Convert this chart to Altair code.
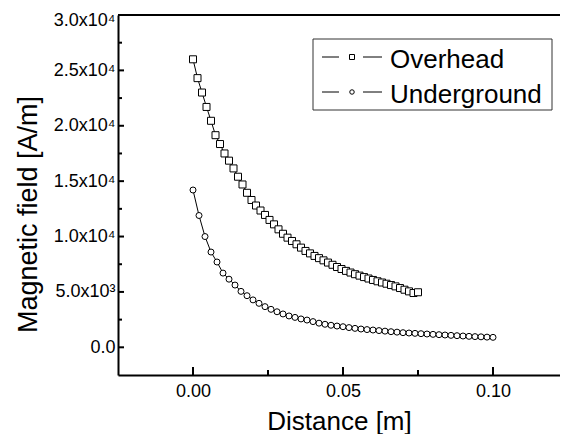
import altair as alt
import pandas as pd

# ---- data ----
series_names = ["Overhead", "Underground"]

overhead_x = [0.0, 0.0015, 0.003, 0.0045, 0.006, 0.0075, 0.009, 0.0105, 0.012, 0.0135,
              0.015, 0.0165, 0.018, 0.0195, 0.021, 0.0225, 0.024, 0.0255, 0.027, 0.0285,
              0.03, 0.0315, 0.033, 0.0345, 0.036, 0.0375, 0.039, 0.0405, 0.042, 0.0435,
              0.045, 0.0465, 0.048, 0.0495, 0.051, 0.0525, 0.054, 0.0555, 0.057, 0.0585,
              0.06, 0.0615, 0.063, 0.0645, 0.066, 0.0675, 0.069, 0.0705, 0.072, 0.0735,
              0.075]
overhead_y = [26000, 24300, 23000, 21700, 20450, 19150, 18350, 17500, 16850, 16150,
              15400, 14700, 13950, 13300, 12800, 12350, 11950, 11500, 11100, 10650,
              10250, 9900, 9600, 9300, 9000, 8700, 8480, 8250, 8050, 7850,
              7650, 7450, 7250, 7070, 6900, 6750, 6600, 6470, 6340, 6210,
              6080, 5960, 5850, 5740, 5620, 5500, 5350, 5200, 5050, 4900,
              4970]

underground_x = [0.0, 0.002, 0.004, 0.006, 0.008, 0.01, 0.012, 0.014, 0.016, 0.018,
                 0.02, 0.022, 0.024, 0.026, 0.028, 0.03, 0.032, 0.034, 0.036, 0.038,
                 0.04, 0.042, 0.044, 0.046, 0.048, 0.05, 0.052, 0.054, 0.056, 0.058,
                 0.06, 0.062, 0.064, 0.066, 0.068, 0.07, 0.072, 0.074, 0.076, 0.078,
                 0.08, 0.082, 0.084, 0.086, 0.088, 0.09, 0.092, 0.094, 0.096, 0.098,
                 0.1]
underground_y = [14200, 11900, 10000, 8600, 7700, 6700, 6150, 5620, 5050, 4660,
                 4280, 3970, 3670, 3430, 3210, 3010, 2830, 2700, 2560, 2460,
                 2320, 2180, 2080, 1990, 1920, 1860, 1780, 1710, 1650, 1600,
                 1560, 1510, 1460, 1410, 1370, 1320, 1290, 1260, 1230, 1200,
                 1170, 1140, 1110, 1080, 1050, 1020, 990, 965, 945, 920,
                 900]

x_major = [0.0, 0.05, 0.10]
x_minor = [0.025, 0.075]
y_major = [0, 5000, 10000, 15000, 20000, 25000, 30000]
y_minor = [2500, 7500, 12500, 17500, 22500, 27500]

# ---- layout / style ----
W, H = 442, 360
FONT = "Liberation Sans"

df_o = pd.DataFrame({"d": overhead_x, "h": overhead_y, "s": series_names[0]})
df_u = pd.DataFrame({"d": underground_x, "h": underground_y, "s": series_names[1]})

xs = alt.Scale(domain=[-0.025, -0.025 + W / 3000.0], nice=False, zero=False)
ys = alt.Scale(domain=[-2500, 30000], nice=False, zero=False)

xaxis = alt.Axis(values=x_major, format=".2f", title="Distance [m]", ticks=False, tickSize=0,
                 grid=False, domainColor="black", domainWidth=2,
                 labelFont=FONT, labelFontSize=18, labelColor="black", labelPadding=7,
                 titleFont=FONT, titleFontSize=26, titleFontWeight="normal", titleColor="black",
                 titleBaseline="alphabetic", titleY=54)

label_expr = ("datum.value == 0 ? '0.0' : (datum.value < 10000 ? "
              "format(datum.value / 1000, '.1f') + 'x10\u00b3' : "
              "format(datum.value / 10000, '.1f') + 'x10\u2074')")

yaxis = alt.Axis(values=y_major, labelExpr=label_expr, title="Magnetic field [A/m]",
                 ticks=False, tickSize=0, grid=False, domainColor="black", domainWidth=2,
                 labelFont=FONT, labelFontSize=18, labelColor="black", labelPadding=3,
                 labelFlush=True, labelFlushOffset=4,
                 titleFont=FONT, titleFontSize=27, titleFontWeight="normal", titleColor="black",
                 titleBaseline="alphabetic", titleAlign="center", titleAngle=270,
                 titleX=-82, titleY=199)


def X(field):
    return alt.X(field, scale=xs, axis=xaxis)


def Y(field):
    return alt.Y(field, scale=ys, axis=yaxis)


def series_layers(df, shape, size):
    line = alt.Chart(df).mark_line(color="black", strokeWidth=1).encode(x=X("d:Q"), y=Y("h:Q"))
    pts = alt.Chart(df).mark_point(shape=shape, size=size, filled=True, fill="white",
                                   stroke="black", strokeWidth=1, opacity=1).encode(
        x=X("d:Q"), y=Y("h:Q"))
    return [line, pts]


def xticks(vals, length):
    return alt.Chart(pd.DataFrame({"d": vals})).mark_rule(color="black", strokeWidth=2).encode(
        x=X("d:Q"), y=alt.value(H), y2=alt.value(H - length))


def yticks(vals, length):
    return alt.Chart(pd.DataFrame({"h": vals})).mark_rule(color="black", strokeWidth=2).encode(
        y=Y("h:Q"), x=alt.value(0), x2=alt.value(length))


top_line = alt.Chart(pd.DataFrame({"a": [0]})).mark_rule(color="black", strokeWidth=2).encode(
    x=alt.value(0), x2=alt.value(W), y=alt.value(0))

# legend (drawn by hand to get the "— marker —" look)
legend_box = alt.Chart(pd.DataFrame({"a": [0]})).mark_rect(
    fill="white", stroke="#333333", strokeWidth=1).encode(
    x=alt.value(195), x2=alt.value(434), y=alt.value(24), y2=alt.value(95))

legend_layers = [legend_box]
for name, shape, size, yc in [(series_names[0], "square", 25, 42),
                              (series_names[1], "circle", 20, 77)]:
    ldf = pd.DataFrame({"label": [name]})
    for xa, xb in [(204, 221), (245, 264)]:
        legend_layers.append(alt.Chart(ldf).mark_rule(color="black", strokeWidth=1).encode(
            x=alt.value(xa), x2=alt.value(xb), y=alt.value(yc)))
    legend_layers.append(alt.Chart(ldf).mark_point(
        shape=shape, size=size, filled=True, fill="white", stroke="black",
        strokeWidth=1, opacity=1).encode(x=alt.value(234), y=alt.value(yc)))
    legend_layers.append(alt.Chart(ldf).mark_text(
        align="left", baseline="alphabetic", font=FONT, fontSize=26, color="black").encode(
        x=alt.value(272), y=alt.value(yc + 11), text="label:N"))

layers = (series_layers(df_o, "square", 49)
          + series_layers(df_u, "circle", 36)
          + [xticks(x_major, 8), xticks(x_minor, 5), yticks(y_major, 6), yticks(y_minor, 4),
             top_line]
          + legend_layers)

chart = alt.layer(*layers).properties(
    width=W, height=H,
    padding={"left": 110, "top": 7, "right": 0, "bottom": 59},
    autosize=alt.AutoSizeParams(type="none"),
    background="white",
).configure_view(stroke=None)

chart.save("out.html", embed_options={"renderer": "svg", "actions": False})
